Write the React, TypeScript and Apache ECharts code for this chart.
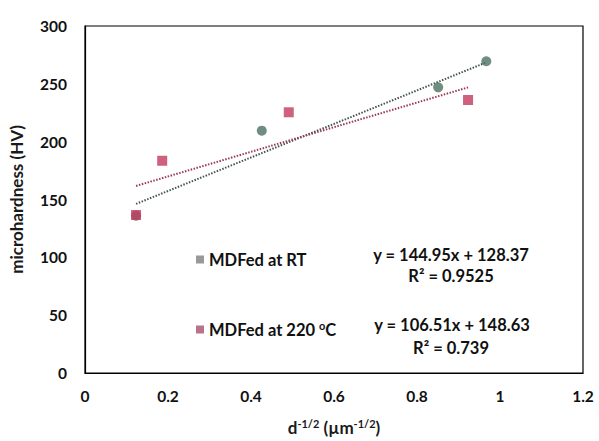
import React, { useEffect, useRef } from "react";
import * as echarts from "echarts";

const seriesNames = ["MDFed at RT", "MDFed at 220 ºC"];
const rtX = [0.123, 0.426, 0.851, 0.967];
const rtY = [136, 209.5, 247, 269.5];
const hotX = [0.123, 0.186, 0.491, 0.923];
const hotY = [136.6, 183.5, 225.4, 236];
const rtFit = { slope: 144.95, intercept: 128.37, r2: "0.9525" };
const hotFit = { slope: 106.51, intercept: 148.63, r2: "0.739" };
const xTicks = [0, 0.2, 0.4, 0.6, 0.8, 1, 1.2];
const yTicks = [0, 50, 100, 150, 200, 250, 300];

const FONT = "Lato, 'Open Sans', sans-serif";
const GREEN = "#4b7261";
const RED = "#c23a5c";

function fitLine(xs: number[], f: { slope: number; intercept: number }) {
  const lo = Math.min(...xs);
  const hi = Math.max(...xs);
  return [
    [lo, f.slope * lo + f.intercept],
    [hi, f.slope * hi + f.intercept],
  ];
}

function eqText(f: { slope: number; intercept: number }) {
  return `y = ${f.slope.toFixed(2)}x + ${f.intercept.toFixed(2)}`;
}

export default function App() {
  const ref = useRef<HTMLDivElement>(null);
  useEffect(() => {
    if (!ref.current) return;
    const chart = echarts.init(ref.current, undefined, { renderer: "svg" });
    const sup = { fontSize: 11, fontWeight: "bold", fontFamily: FONT, color: "#1a1a1a", padding: [0, 0, 8, 0] };
    const eqStyle = { fontSize: 16.5, fontWeight: "bold", fontFamily: FONT, fill: "#111", textAlign: "center", textVerticalAlign: "middle" };
    const legendText = {
      fontSize: 16.5,
      fontWeight: "bold",
      fontFamily: FONT,
      color: "#111",
      rich: { sup: { fontSize: 11, fontWeight: "bold", fontFamily: FONT, color: "#111", padding: [0, 0, 8, 0] } },
    };
    chart.setOption({
      animation: false,
      backgroundColor: "#ffffff",
      grid: { left: 85, top: 26, right: 16, bottom: 67, show: true, borderColor: "#000", borderWidth: 1.2, backgroundColor: "transparent" },
      xAxis: {
        type: "value",
        min: 0,
        max: 1.2,
        interval: 0.2,
        axisLine: { show: true, lineStyle: { color: "#000", width: 1.2 } },
        axisTick: { show: false },
        splitLine: { show: false },
        axisLabel: {
          fontSize: 15.5,
          fontWeight: "bold",
          fontFamily: FONT,
          color: "#111",
          margin: 15,
          formatter: (v: number) => {
            const t = xTicks.find((k) => Math.abs(k - v) < 1e-9);
            return t === undefined ? "" : String(t);
          },
        },
        name: "d{sup|-1/2} (µm{sup|-1/2})",
        nameLocation: "middle",
        nameGap: 45,
        nameTextStyle: {
          fontSize: 17,
          fontWeight: "bold",
          fontFamily: FONT,
          color: "#1a1a1a",
          rich: { sup },
        },
      },
      yAxis: {
        type: "value",
        min: 0,
        max: 300,
        interval: 50,
        axisLine: { show: true, lineStyle: { color: "#000", width: 1.2 } },
        axisTick: { show: false },
        splitLine: { show: false },
        axisLabel: {
          fontSize: 15.5,
          fontWeight: "bold",
          fontFamily: FONT,
          color: "#111",
          margin: 18,
          formatter: (v: number) => (yTicks.includes(v) ? String(v) : ""),
        },
        name: "microhardness (HV)",
        nameLocation: "middle",
        nameGap: 60,
        nameTextStyle: { fontSize: 17, fontWeight: "bold", fontFamily: FONT, color: "#1a1a1a" },
      },
      legend: [
        {
          data: [{ name: seriesNames[0], itemStyle: { color: "#808080" } }],
          left: 191,
          top: 246,
          orient: "vertical",
          icon: "rect",
          itemWidth: 8,
          itemHeight: 8,
          itemGap: 6,
          textStyle: legendText,
        },
        {
          data: [{ name: seriesNames[1], itemStyle: { color: "#a8506c" } }],
          left: 191,
          top: 315,
          orient: "vertical",
          icon: "rect",
          itemWidth: 8,
          itemHeight: 8,
          itemGap: 6,
          textStyle: legendText,
          formatter: () => "MDFed at 220 {sup|o}C",
        },
      ],
      graphic: [
        { type: "text", x: 451, y: 255, style: { ...eqStyle, text: eqText(rtFit) } },
        { type: "text", x: 451, y: 276, style: { ...eqStyle, text: `R² = ${rtFit.r2}` } },
        { type: "text", x: 452, y: 325, style: { ...eqStyle, text: eqText(hotFit) } },
        { type: "text", x: 451, y: 348, style: { ...eqStyle, text: `R² = ${hotFit.r2}` } },
      ],
      series: [
        {
          name: seriesNames[0] + " fit",
          type: "line",
          data: fitLine(rtX, rtFit),
          showSymbol: false,
          symbol: "none",
          lineStyle: { color: "#44554d", width: 2, type: [1.5, 1.5] },
          silent: true,
          z: 1,
        },
        {
          name: seriesNames[1] + " fit",
          type: "line",
          data: fitLine(hotX, hotFit),
          showSymbol: false,
          symbol: "none",
          lineStyle: { color: "#9a3a55", width: 2, type: [1.5, 1.5] },
          silent: true,
          z: 1,
        },
        {
          name: seriesNames[0],
          type: "scatter",
          data: rtX.map((x, i) => [x, rtY[i]]),
          symbol: "circle",
          symbolSize: 10,
          itemStyle: { color: GREEN },
          z: 3,
        },
        {
          name: seriesNames[1],
          type: "scatter",
          data: hotX.map((x, i) => [x, hotY[i]]),
          symbol: "rect",
          symbolSize: 10,
          itemStyle: { color: RED },
          z: 4,
        },
      ],
    });
    return () => chart.dispose();
  }, []);
  return <div ref={ref} style={{ width: 599, height: 441, position: "fixed", left: 0, top: 0 }} />;
}
